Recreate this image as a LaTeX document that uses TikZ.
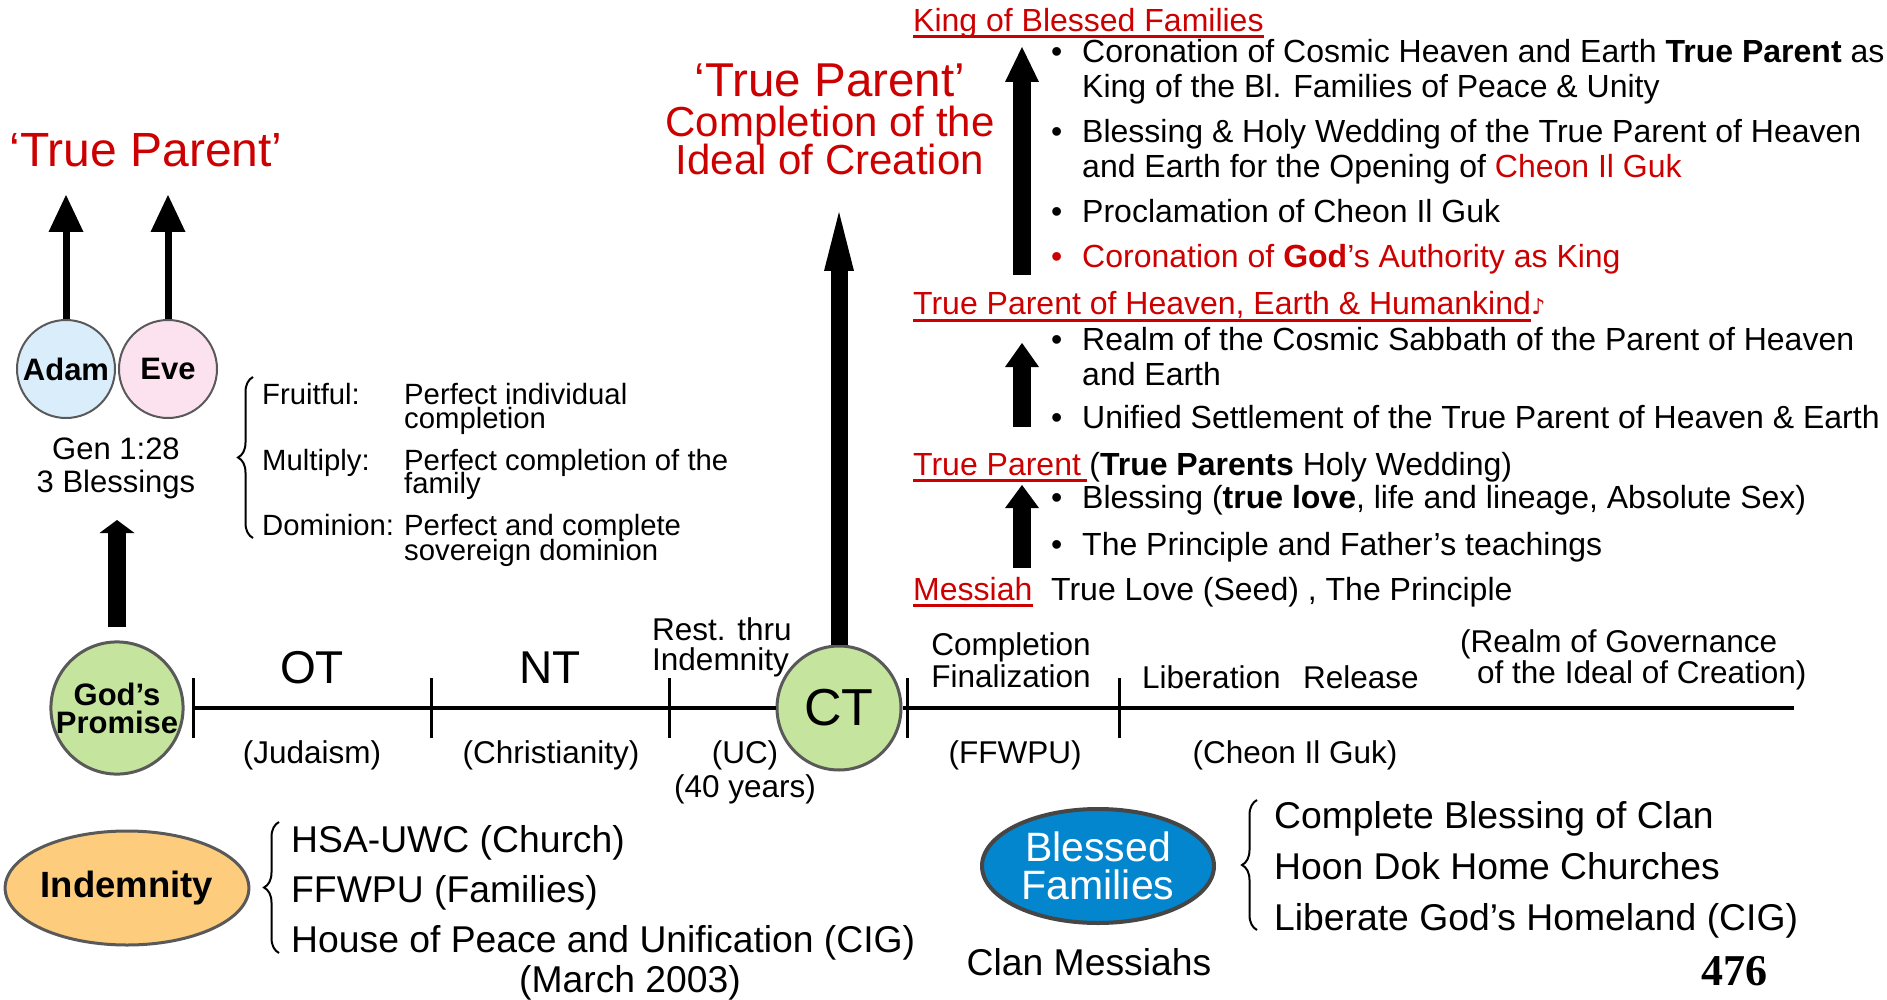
\documentclass[tikz,border=0pt]{standalone}
\usepackage{fontspec}
\setmainfont{Liberation Sans}
\newfontfamily\numfont{Liberation Serif}
\newfontfamily\notefont{DejaVu Sans}
\usepackage{xcolor}
\usetikzlibrary{arrows.meta,positioning,shapes.geometric,decorations.pathreplacing,calc}

\definecolor{tpred}{RGB}{204,0,0}
\definecolor{rimgray}{RGB}{89,89,89}
\definecolor{promisegreen}{RGB}{197,228,157}
\definecolor{adamblue}{RGB}{217,237,251}
\definecolor{evepink}{RGB}{252,225,239}
\definecolor{indemorange}{RGB}{253,204,125}
\definecolor{blessblue}{RGB}{4,134,206}

\begin{document}
\begin{tikzpicture}[
    x=1pt, y=-1pt,
    txt/.style={inner sep=0pt, anchor=base west},
    body/.style={txt, font=\fontsize{32}{35}\selectfont},
    redhead/.style={body, text=tpred},
    uline/.style={tpred, line width=3pt},
    bigtitle/.style={inner sep=0pt, anchor=base, text=tpred},
    era/.style={inner sep=0pt, anchor=base, font=\fontsize{46}{46}\selectfont},
    note/.style={inner sep=0pt, anchor=base, font=\fontsize{31.5}{31.5}\selectfont},
    blessing/.style={txt, font=\fontsize{29.3}{24}\selectfont},
    listitem/.style={txt, font=\fontsize{37.3}{40}\selectfont},
    person/.style={circle, draw=rimgray, line width=2pt, minimum size=98pt, inner sep=0pt, font=\bfseries\fontsize{31}{31}\selectfont},
    stage/.style={circle, draw=rimgray, line width=3pt, fill=promisegreen, minimum size=124pt, inner sep=0pt},
    movement/.style={ellipse, line width=3pt, minimum width=232pt, minimum height=114pt, inner sep=0pt},
    curly/.style={decorate, decoration={brace, amplitude=15pt}, line width=2pt},
    timeline/.style={line width=4pt},
    tick/.style={line width=3pt},
    thinarrow/.style={line width=7pt, -{Triangle[length=37pt, width=35pt, line width=0pt]}},
    promisearrow/.style={line width=18pt, -{Triangle[length=13pt, width=35pt, line width=0pt]}},
    ctarrow/.style={line width=17pt, -{Triangle[length=59pt, width=30pt, line width=0pt]}},
    stairarrow/.style={line width=18pt, -{Triangle[length=24pt, width=34pt, line width=0pt]}}
]
\useasboundingbox (0,0) rectangle (1887,1000);

% left: Adam and Eve
\node[bigtitle, font=\fontsize{48}{48}\selectfont] (lefttitle) at (146,167) {‘True Parent’};
\node[person, fill=adamblue] (adam) at (66,369) {Adam};
\node[person, fill=evepink] (eve) at (168,369) {Eve};
\coordinate (adamtip) at (66,195);
\coordinate (evetip) at (168,195);
\draw[thinarrow] (adam) -- (adamtip);
\draw[thinarrow] (eve) -- (evetip);

\node[inner sep=0pt, align=center, font=\fontsize{31}{33}\selectfont] (gen) at (116,468) {Gen 1:28\\3 Blessings};

\draw[curly] (253,538) -- (253,377);
\node[blessing] (fruit) at (262,404) {Fruitful:};
\node[blessing] (fruitv1) at (404,404) {Perfect individual};
\node[blessing] (fruitv2) at (404,428) {completion};
\node[blessing] (multiply) at (262,470) {Multiply:};
\node[blessing] (multiplyv1) at (404,470) {Perfect completion of the};
\node[blessing] (multiplyv2) at (404,493) {family};
\node[blessing] (dominion) at (262,535) {Dominion:};
\node[blessing] (dominionv1) at (404,535) {Perfect and complete};
\node[blessing] (dominionv2) at (404,560) {sovereign dominion};

% timeline
\node[stage, align=center, font=\bfseries\fontsize{31}{28}\selectfont] (promise) at (117,708) {God’s\\Promise};
\coordinate (promisetip) at (117,520);
\draw[promisearrow, shorten <=13pt] (promise) -- (promisetip);

\node[stage, font=\fontsize{52}{52}\selectfont] (ct) at (839,708) {CT};
\coordinate (tl0) at (193,708);
\coordinate (tl1) at (1794,708);
\draw[timeline] (tl0) -- (ct) -- (tl1);
\foreach \x in {193,431,669,907,1119}
    \draw[tick] (\x,678) -- (\x,738);

\node[bigtitle, font=\fontsize{47.5}{47.5}\selectfont] (ctitle1) at (830,97) {‘True Parent’};
\node[bigtitle, font=\fontsize{42}{42}\selectfont] (ctitle2) at (830,137) {Completion of the};
\node[bigtitle, font=\fontsize{42}{42}\selectfont] (ctitle3) at (830,175) {Ideal of Creation};
\coordinate (cttip) at (839,212);
\draw[ctarrow] (ct) -- (cttip);

\node[era] (ot) at (312,683) {OT};
\node[era] (nt) at (550,683) {NT};
\node[note, anchor=base west] (rest1) at (652,640) {Rest. thru};
\node[note, anchor=base west] (rest2) at (652,670) {Indemnity};
\node[note] (completion) at (1011,655) {Completion};
\node[note] (finalization) at (1011,687) {Finalization};
\node[note, anchor=base west] (liberation) at (1142,688) {Liberation\hspace{0.72em}Release};
\node[note, anchor=base west] (realm1) at (1460,652) {(Realm of Governance};
\node[note, anchor=base west] (realm2) at (1477,683) {of the Ideal of Creation)};

\node[note] (judaism) at (312,763) {(Judaism)};
\node[note] (christianity) at (551,763) {(Christianity)};
\node[note] (uc) at (745,763) {(UC)};
\node[note] (fortyyears) at (745,797) {(40 years)};
\node[note] (ffwpu) at (1015,763) {(FFWPU)};
\node[note] (cheon) at (1295,763) {(Cheon Il Guk)};

% bottom left: Indemnity
\node[movement, draw=rimgray, fill=indemorange, font=\bfseries\fontsize{36.5}{36.5}\selectfont] (indemnity) at (127,888) {Indemnity};
\draw[curly] (279,953) -- (279,822);
\node[listitem] (hsa) at (291,852) {HSA-UWC (Church)};
\node[listitem] (families) at (291,902) {FFWPU (Families)};
\node[listitem] (house) at (291,952) {House of Peace and Unification (CIG)};
\node[listitem, anchor=base] (march) at (630,992) {(March 2003)};

% bottom right: Blessed Families
\node[movement, draw={rgb,255:red,70;green,70;blue,70}, line width=4pt, fill=blessblue, text=white, align=center, font=\fontsize{41}{38}\selectfont] (blessed) at (1098,866) {Blessed\\Families};
\node[listitem, anchor=base] (clan) at (1089,975) {Clan Messiahs};
\draw[curly] (1257,930) -- (1257,800);
\node[listitem] (clanbless) at (1274,828) {Complete Blessing of Clan};
\node[listitem] (hoondok) at (1274,879) {Hoon Dok Home Churches};
\node[listitem] (homeland) at (1274,930) {Liberate God’s Homeland (CIG)};
\node[inner sep=0pt, anchor=base, font=\numfont\bfseries\fontsize{44}{44}\selectfont] (page) at (1734,985) {476};

% right: steps to King of Blessed Families
\node[redhead] (king) at (913,32) {King of Blessed Families};
\draw[uline] ($(king.base west)+(0,5)$) -- ($(king.base east)+(0,5)$);
\node[body] (b1dot) at (1051,63) {•};
\node[body] (b1a) at (1082,63) {Coronation of Cosmic Heaven and Earth \textbf{True Parent} as};
\node[body] (b1b) at (1082,98) {King of the Bl. Families of Peace \& Unity};
\node[body] (b2dot) at (1051,143) {•};
\node[body] (b2a) at (1082,143) {Blessing \& Holy Wedding of the True Parent of Heaven};
\node[body] (b2b) at (1082,178) {and Earth for the Opening of \textcolor{tpred}{Cheon Il Guk}};
\node[body] (b3dot) at (1051,223) {•};
\node[body] (b3) at (1082,223) {Proclamation of Cheon Il Guk};
\node[redhead] (b4dot) at (1051,268) {•};
\node[redhead] (b4) at (1082,268) {Coronation of \textbf{God}’s Authority as King};

\node[redhead] (tph) at (913,315) {True Parent of Heaven, Earth \& Humankind};
\draw[uline] ($(tph.base west)+(0,5)$) -- ($(tph.base east)+(0,5)$);
\node[txt, text=tpred, font=\notefont\fontsize{22}{22}\selectfont] (tphnote) at (tph.base east) {♪};
\node[body] (b5dot) at (1051,350) {•};
\node[body] (b5a) at (1082,350) {Realm of the Cosmic Sabbath of the Parent of Heaven};
\node[body] (b5b) at (1082,385) {and Earth};
\node[body] (b6dot) at (1051,428) {•};
\node[body] (b6) at (1082,428) {Unified Settlement of the True Parent of Heaven \& Earth};

\node[redhead] (tp) at (913,475) {True Parent\kern6pt};
\draw[uline] ($(tp.base west)+(0,5)$) -- ($(tp.base east)+(0,5)$);
\node[body] (tpwedding) at ([xshift=2pt]tp.base east) {(\textbf{True Parents} Holy Wedding)};
\node[body] (b7dot) at (1051,508) {•};
\node[body] (b7) at (1082,508) {Blessing (\textbf{true love}, life and lineage, Absolute Sex)};
\node[body] (b8dot) at (1051,555) {•};
\node[body] (b8) at (1082,555) {The Principle and Father’s teachings};

\node[redhead] (messiah) at (913,600) {Messiah};
\draw[uline] ($(messiah.base west)+(0,5)$) -- ($(messiah.base east)+(0,5)$);
\node[body] (seed) at (1051,600) {True Love (Seed) , The Principle};

\coordinate (kingfoot) at (1022,275);
\coordinate (kinghead) at (1022,47);
\coordinate (tphfoot) at (1022,427);
\coordinate (tphhead) at (1022,343);
\coordinate (tpfoot) at (1022,568);
\coordinate (tphead) at (1022,485);
\draw[stairarrow, -{Triangle[length=35pt, width=34pt, line width=0pt]}] (kingfoot) -- (kinghead);
\draw[stairarrow] (tphfoot) -- (tphhead);
\draw[stairarrow, -{Triangle[length=23pt, width=34pt, line width=0pt]}] (tpfoot) -- (tphead);
\end{tikzpicture}
\end{document}
